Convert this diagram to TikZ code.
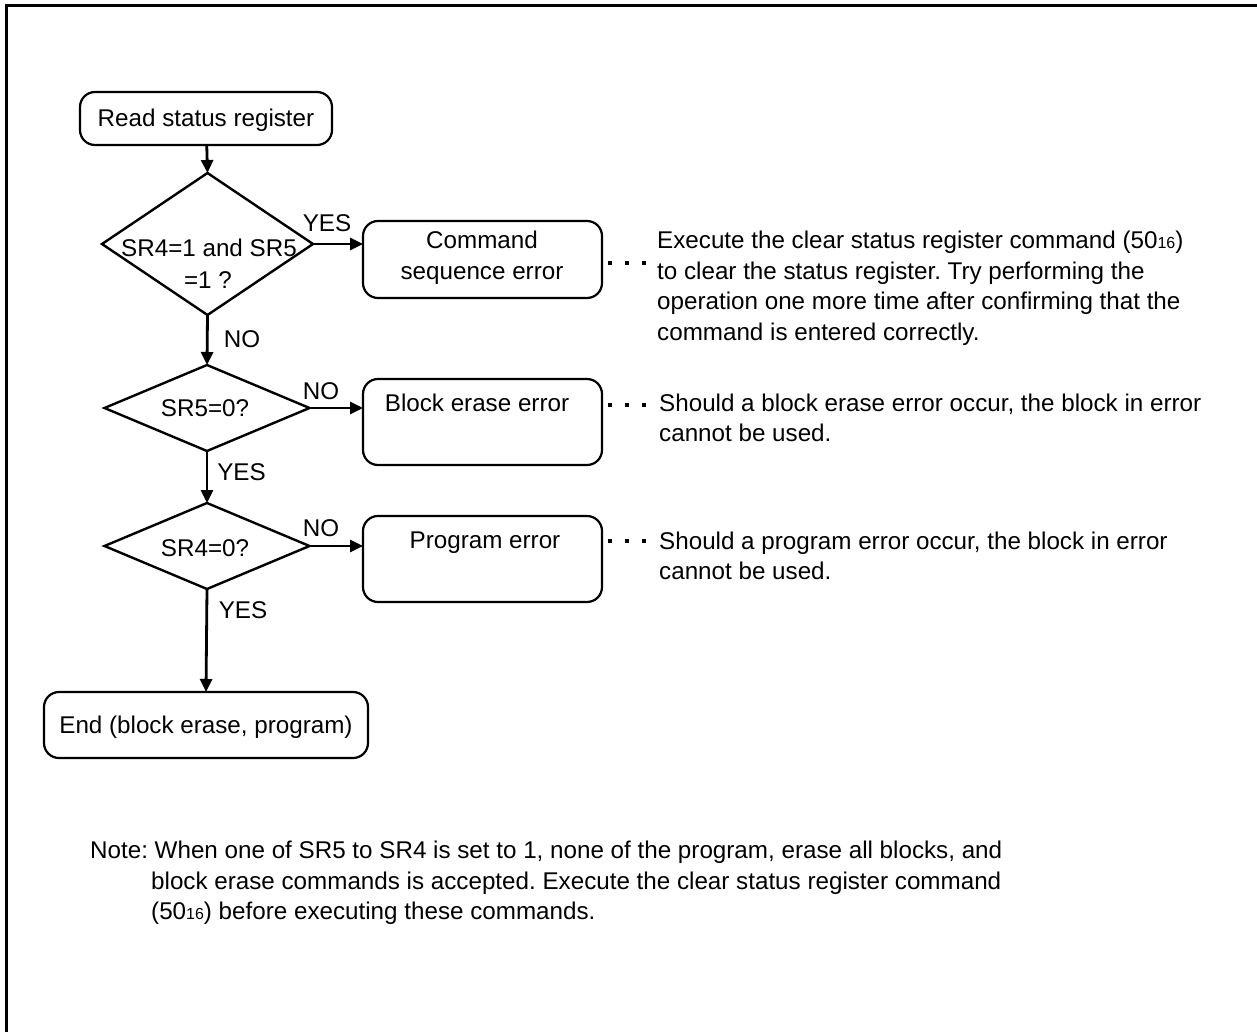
\documentclass[tikz,border=0pt]{standalone}
\usepackage{fontspec}
\setmainfont{Liberation Sans}
\usetikzlibrary{arrows.meta,shapes.geometric}
\newcommand{\sixteen}{{\fontsize{16}{16}\selectfont 16}}
\frenchspacing
\begin{document}
\frenchspacing
\begin{tikzpicture}[x=1pt,y=-1pt,
  font=\fontsize{24.2}{30.5}\selectfont,
  box/.style={draw, line width=2.2pt, rounded corners=15pt, inner sep=0pt, outer sep=0pt, text height=17pt, text depth=0pt},
  dia/.style={draw, diamond, line width=2.4pt, inner sep=0pt, outer sep=0pt},
  lbl/.style={inner sep=0pt, text height=17pt, text depth=0pt},
  arr/.style={line width=2.8pt, -{Triangle[length=13pt,width=12pt]}},
  dots/.style={line width=4pt, dash pattern=on 4pt off 13pt},
  desc/.style={anchor=base west, inner sep=0pt}]
\useasboundingbox (0,0) rectangle (1257,1032);
% frame
\draw[line width=3pt] (6,1045) -- (6,6) -- (1270,6);

% start
\node[box, minimum width=252pt, minimum height=53pt] (rsr) at (206,118.5) {Read status register};

% decision 1
\node[dia, minimum width=211pt, minimum height=142pt] (d1) at (207.5,244) {};
\node[lbl] (d1a) at (209,247.5) {SR4=1 and SR5};
\node[lbl] (d1b) at (208,279.5) {=1 ?};
\node[box, minimum width=239pt, minimum height=77pt] (cse) at (482.5,259.5) {};
\node[lbl] (csea) at (482,240) {Command};
\node[lbl] (cseb) at (482,270.5) {sequence error};
\node[lbl] (yes1) at (327,223.5) {YES};
\node[lbl] (no1) at (242,339) {NO};

% decision 2
\node[dia, minimum width=205pt, minimum height=86pt] (d2) at (207,408) {};
\node[lbl] (d2a) at (205,407.5) {SR5=0?};
\node[box, minimum width=239pt, minimum height=86pt] (bee) at (482.5,422) {};
\node[lbl] (beea) at (477,402.5) {Block erase error};
\node[lbl] (no2) at (321,391) {NO};
\node[lbl] (yes2) at (241.5,472) {YES};

% decision 3
\node[dia, minimum width=205pt, minimum height=86pt] (d3) at (207,546) {};
\node[lbl] (d3a) at (205,548) {SR4=0?};
\node[box, minimum width=239pt, minimum height=86pt] (pe) at (482.5,559) {};
\node[lbl] (pea) at (485,540) {Program error};
\node[lbl] (no3) at (321,527.5) {NO};
\node[lbl] (yes3) at (243,609.5) {YES};

% end
\node[box, minimum width=324pt, minimum height=66pt] (end) at (206,725) {End (block erase, program)};

% connectors
\draw[arr] (rsr) -- (d1.north);
\draw[arr] (d1.east) -- (d1.east -| cse.west);
\draw[arr] (d1.south) -- (d2.north);
\draw[arr] (d2.east) -- (d2.east -| bee.west);
\draw[arr] (d2.south) -- (d3.north);
\draw[arr] (d3.east) -- (d3.east -| pe.west);
\draw[arr] (d3.south) -- (end.north);

% dotted leaders
\draw[dots] ([xshift=5.5pt,yshift=-3.5pt]cse.east) -- ++(40,0);
\draw[dots] ([xshift=5.5pt,yshift=17pt]bee.east) -- ++(40,0);
\draw[dots] ([xshift=5.5pt,yshift=18pt]pe.east) -- ++(40,0);

% descriptions
\node[desc] (t1) at (657,248.6) {\parbox[t]{590pt}{\raggedright
Execute the clear status register command (50\sixteen)\\
to clear the status register. Try performing the\\
operation one more time after confirming that the\\
command is entered correctly.}};
\node[desc] (t2) at (659,411) {\parbox[t]{590pt}{\raggedright
Should a block erase error occur, the block in error\\
cannot be used.}};
\node[desc] (t3) at (659,549) {\parbox[t]{590pt}{\raggedright
Should a program error occur, the block in error\\
cannot be used.}};

% note
\node[desc] (note) at (90,858.6) {\parbox[t]{1100pt}{\raggedright
Note: When one of SR5 to SR4 is set to 1, none of the program, erase all blocks, and\\
\hspace*{61pt}block erase commands is accepted. Execute the clear status register command\\
\hspace*{61pt}(50\sixteen) before executing these commands.}};
\end{tikzpicture}
\end{document}
